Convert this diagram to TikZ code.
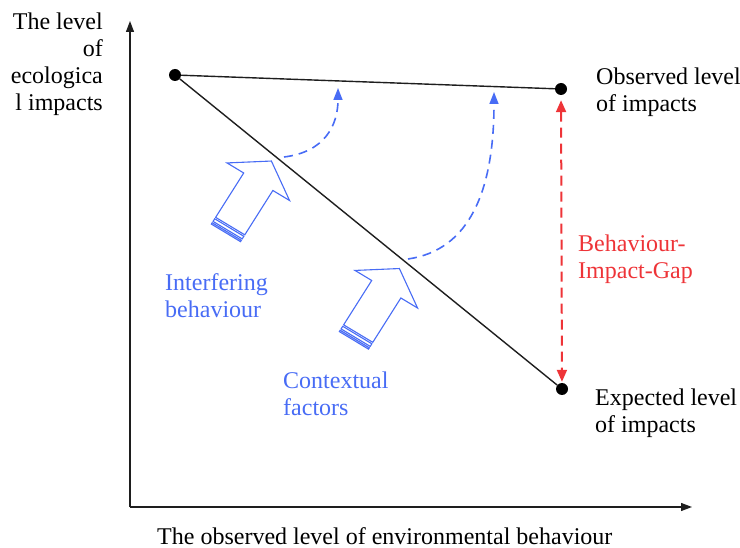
\documentclass[tikz,border=0pt]{standalone}
\usepackage{fontspec}
\setmainfont{Liberation Serif}
\usetikzlibrary{arrows.meta}
\definecolor{flowblue}{RGB}{72,108,245}
\definecolor{gapred}{RGB}{238,52,56}
\definecolor{inkgrey}{RGB}{30,30,30}
\tikzset{
  bigarrow/.pic={
    % block arrow with a striped tail, drawn along the local y axis
    \draw[blockarrow] (-17,0) -- (-17,52.5) -- (-36.5,52.5) -- (0,77)
        -- (36.5,52.5) -- (17,52.5) -- (17,0) -- cycle;
    \draw[blockarrow] (-17,-1.7) -- (17,-1.7) -- (17,-4.8) -- (-17,-4.8) -- cycle;
    \draw[blockarrow] (-17,-6.4) -- (17,-6.4) -- (17,-8.0) -- (-17,-8.0) -- cycle;
  }
}
\begin{document}
\begin{tikzpicture}[x=1pt,y=-1pt,
  lbl/.style={inner sep=0pt, font=\fontsize{24}{27}\selectfont, align=left},
  axis/.style={line width=1.3pt, draw=inkgrey, -{Triangle[length=11pt,width=8pt]}},
  dot/.style={circle, fill=black, inner sep=0pt, minimum size=12pt},
  level/.style={line width=1.4pt, draw=inkgrey},
  flow/.style={line width=1.6pt, draw=flowblue, dash pattern=on 9pt off 6pt,
    -{Triangle[length=12pt,width=9pt,fill=flowblue]}},
  gap/.style={line width=2pt, draw=gapred, dash pattern=on 10pt off 6pt,
    {Triangle[length=12pt,width=10pt]}-{Triangle[length=12pt,width=10pt]}},
  blockarrow/.style={draw=flowblue, line width=1.1pt, fill=white, line join=miter},
]
\useasboundingbox (0,0) rectangle (740,548);

% axes
\coordinate (origin) at (130,507);
\coordinate (ytop) at (130,21);
\coordinate (xend) at (692,507);
\draw[axis] (origin) -- (ytop);
\draw[axis] (origin) -- (xend);

% level points and lines
\node[dot] (start) at (175,75) {};
\node[dot] (observed) at (561,89) {};
\node[dot] (expected) at (562,389) {};
\draw[level] (start) -- (observed);
\draw[level] (start) -- (expected);

% behaviour-impact gap
\draw[gap, shorten <=5pt, shorten >=1pt] (observed) -- (expected);

% influences lifting the impacts
\coordinate (f1s) at (284,157);
\coordinate (f1e) at (338,88);
\draw[flow] (f1s) .. controls (325,152) and (338,125) .. (f1e);
\coordinate (f2s) at (408,259);
\coordinate (f2e) at (494,92);
\draw[flow] (f2s) .. controls (470,250) and (494,190) .. (f2e);

% block arrows
\begin{scope}[shift={(230.2,226.1)}, x={(0.857pt,-0.515pt)}, y={(0.535pt,0.845pt)}]
  \pic {bigarrow};
\end{scope}
\begin{scope}[shift={(358.2,333.6)}, x={(0.857pt,-0.515pt)}, y={(0.535pt,0.845pt)}]
  \pic {bigarrow};
\end{scope}

% labels (anchored at the baseline of their last line)
\node[lbl, align=right, anchor=base east] (ylab) at (103,111) {The level\\of\\ecologica\\l impacts};
\node[lbl, anchor=base west] (obslab) at (596,112) {Observed level\\of impacts};
\node[lbl, anchor=base west, text=gapred] (gaplab) at (578,279) {Behaviour-\\Impact-Gap};
\node[lbl, anchor=base west] (explab) at (595,432) {Expected level\\of impacts};
\node[lbl, anchor=base west, text=flowblue] (intlab) at (165,318) {Interfering\\behaviour};
\node[lbl, anchor=base west, text=flowblue] (ctxlab) at (283,416) {Contextual\\factors};
\node[lbl, anchor=base west] (xlab) at (157,544) {The observed level of environmental behaviour};
\end{tikzpicture}
\end{document}
